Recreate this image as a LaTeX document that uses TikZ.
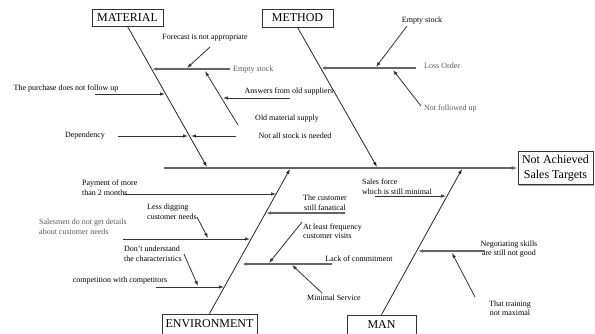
\documentclass[tikz,border=0pt]{standalone}
\usepackage{fontspec}
\setmainfont{Liberation Serif}
\usetikzlibrary{arrows.meta,shadows}
\begin{document}
\begin{tikzpicture}[x=1pt,y=-1pt,
  box/.style={draw=black!80, line width=0.7pt, fill=white, inner sep=0pt,
    font=\fontsize{12}{14.5}\selectfont, align=center,
    drop shadow={shadow xshift=1.3pt, shadow yshift=-1.3pt, fill=black!35, opacity=1}},
  lbl/.style={inner sep=0pt, font=\fontsize{8}{9.5}\selectfont},
  glbl/.style={lbl, text=black!65},
  bone/.style={draw=black!85, line width=0.8pt, -{Latex[length=5pt,width=3.5pt]}},
  spine/.style={draw=black!60, line width=1.5pt, -{Latex[length=6pt,width=4pt]}},
  sub/.style={draw=black!60, line width=1.3pt, -{Latex[length=5pt,width=3.5pt]}},
  cause/.style={draw=black!80, line width=0.8pt, -{Latex[length=5pt,width=3.5pt]}}]
\useasboundingbox (0,0) rectangle (595,333);

% category boxes
\node[box, minimum width=71pt, minimum height=17pt] (mat) at (127.5,17.5) {MATERIAL};
\node[box, minimum width=71pt, minimum height=18pt] (met) at (297.5,18) {METHOD};
\node[box, minimum width=95pt, minimum height=20pt] (env) at (209.5,324) {ENVIRONMENT};
\node[box, minimum width=69pt, minimum height=20pt] (man) at (381.5,325) {MAN};
\node[box, minimum width=75pt, minimum height=33pt] (tgt) at (555.5,168) {Not Achieved\\Sales Targets};

% spine
\coordinate (sp0) at (164,168);
\draw[spine] (sp0) -- (tgt.west);

% bones
\coordinate (matT) at (207,167);
\coordinate (metT) at (377,167);
\coordinate (envT) at (290,169);
\coordinate (manT) at (462,169);
\draw[bone] (mat.south) -- (matT);
\draw[bone] (met.south) -- (metT);
\draw[bone] (env.north) -- (envT);
\draw[bone] (man.north) -- (manT);

% ---------- MATERIAL ----------
\node[lbl] (fc) at (205,38) {Forecast is not appropriate};
\node[glbl, anchor=west] (es1) at (233,70) {Empty stock};
\node[lbl] (pu) at (66,89) {The purchase does not follow up};
\node[lbl] (ans) at (289,92) {Answers from old suppliers};
\node[lbl] (oms) at (287,119) {Old material supply};
\node[lbl] (dep) at (85,136) {Dependency};
\node[lbl] (nas) at (295,136) {Not all stock is needed};

\coordinate (es1a) at (230,69); \coordinate (es1b) at (152,69);
\draw[sub] (es1a) -- (es1b);
\coordinate (fca) at (210,47); \coordinate (fcb) at (187,68);
\draw[cause] (fca) -- (fcb);
\coordinate (omsa) at (238,125); \coordinate (omsb) at (205,71);
\draw[cause] (omsa) -- (omsb);
\coordinate (pua) at (95,94); \coordinate (pub) at (165,94);
\draw[cause] (pua) -- (pub);
\coordinate (ansa) at (290,98); \coordinate (ansb) at (223,98);
\draw[cause] (ansa) -- (ansb);
\coordinate (depa) at (118,136); \coordinate (depb) at (188,136);
\draw[cause] (depa) -- (depb);
\coordinate (nasa) at (236,136); \coordinate (nasb) at (191,136);
\draw[cause] (nasa) -- (nasb);

% ---------- METHOD ----------
\node[lbl] (es2) at (422,21) {Empty stock};
\node[glbl, anchor=west] (lo) at (424,66) {Loss Order};
\node[glbl, anchor=west] (nfu) at (424,109) {Not followed up};

\coordinate (loa) at (416,68); \coordinate (lob) at (321,68);
\draw[sub] (loa) -- (lob);
\coordinate (es2a) at (407,26); \coordinate (es2b) at (376,67);
\draw[cause] (es2a) -- (es2b);
\coordinate (nfua) at (421,106); \coordinate (nfub) at (393,70);
\draw[cause] (nfua) -- (nfub);

% ---------- ENVIRONMENT ----------
\node[lbl, anchor=west, align=left] (pay) at (82,187.5) {Payment of more\\than 2 months};
\node[lbl, anchor=west, align=left] (ld) at (147,212) {Less digging\\customer needs};
\node[glbl, anchor=west, align=left] (sal) at (39,227) {Salesmen do not get details\\about customer needs};
\node[lbl, anchor=west, align=left] (du) at (124,254) {Don't understand\\the characteristics};
\node[lbl] (comp) at (120,281) {competition with competitors};
\node[lbl, align=center] (csf) at (325,203) {The customer\\still fanatical};
\node[lbl, anchor=west, align=left] (alf) at (303,231) {At least frequency\\customer visits};
\node[lbl] (loc) at (359,259) {Lack of commitment};
\node[lbl] (ms) at (334,298) {Minimal Service};

\coordinate (paya) at (123,194); \coordinate (payb) at (276,194);
\draw[cause] (paya) -- (payb);
\coordinate (lda) at (197,217); \coordinate (ldb) at (208,238);
\draw[cause] (lda) -- (ldb);
\coordinate (sala) at (123,239); \coordinate (salb) at (250,239);
\draw[cause] (sala) -- (salb);
\coordinate (dua) at (184,254); \coordinate (dub) at (198,286);
\draw[cause] (dua) -- (dub);
\coordinate (compa) at (156,287); \coordinate (compb) at (224,287);
\draw[cause] (compa) -- (compb);
\coordinate (csfa) at (345,213); \coordinate (csfb) at (266,213);
\draw[sub] (csfa) -- (csfb);
\coordinate (loca) at (332,264); \coordinate (locb) at (242,264);
\draw[sub] (loca) -- (locb);
\coordinate (alfa) at (302,222); \coordinate (alfb) at (269,263);
\draw[cause] (alfa) -- (alfb);
\coordinate (msa) at (322,293); \coordinate (msb) at (292,265);
\draw[cause] (msa) -- (msb);

% ---------- MAN ----------
\node[lbl, anchor=west, align=left] (sf) at (362,186.5) {Sales force\\which is still minimal};
\node[lbl, align=center] (neg) at (509,249) {Negotiating skills\\are still not good};
\node[lbl, align=center] (tt) at (510,308.5) {That training\\not maximal};

\coordinate (sfa) at (375,196); \coordinate (sfb) at (446,196);
\draw[cause] (sfa) -- (sfb);
\coordinate (nega) at (485,251); \coordinate (negb) at (418,251);
\draw[sub] (nega) -- (negb);
\coordinate (tta) at (475,297); \coordinate (ttb) at (452,253);
\draw[cause] (tta) -- (ttb);
\end{tikzpicture}
\end{document}
